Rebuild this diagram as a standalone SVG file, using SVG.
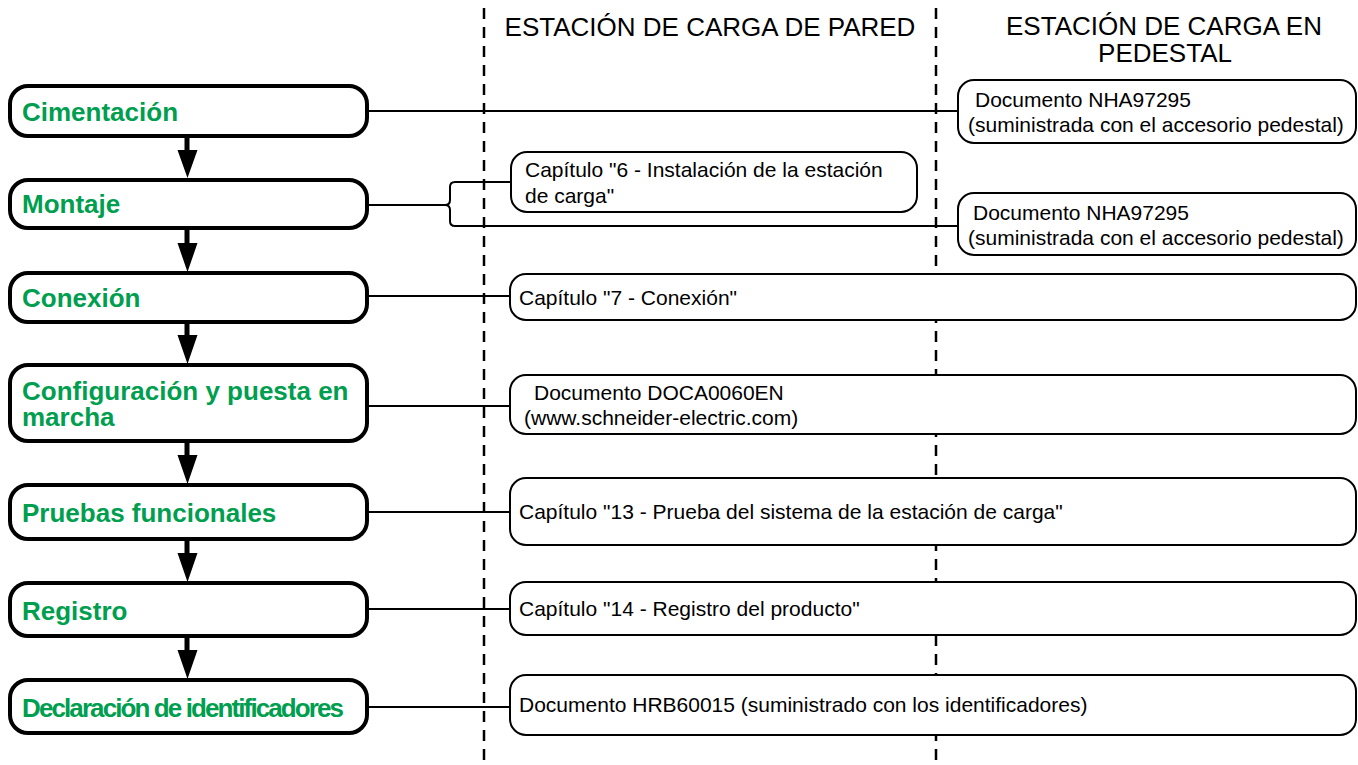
<svg xmlns="http://www.w3.org/2000/svg" width="1358" height="765" viewBox="0 0 1358 765">
<style>
.step{fill:#fff;stroke:#000;stroke-width:4}
.lbl{font-family:"Liberation Sans",Arial,sans-serif;font-weight:bold;font-size:26px;fill:#009e4f}
.doc{fill:#fff;stroke:#000;stroke-width:2}
.dt{font-family:"Liberation Sans",Arial,sans-serif;font-size:21px;fill:#000}
.hd{font-family:"Liberation Sans",Arial,sans-serif;font-size:26px;fill:#000}
.ln{fill:none;stroke:#000;stroke-width:2}
.dash{fill:none;stroke:#000;stroke-width:2.5;stroke-dasharray:11 8}
.arr{fill:#000}
</style>
<rect width="1358" height="765" fill="#fff"/>
<g id="columns">
<line class="dash" x1="484" y1="8" x2="484" y2="765"/>
<line class="dash" x1="936" y1="8" x2="936" y2="765"/>
<text class="hd" x="710" y="36" text-anchor="middle">ESTACIÓN DE CARGA DE PARED</text>
<text class="hd" x="1164" y="35" text-anchor="middle">ESTACIÓN DE CARGA EN</text>
<text class="hd" x="1165" y="62" text-anchor="middle">PEDESTAL</text>
</g>
<g id="connectors">
<line class="ln" x1="367" y1="111" x2="958" y2="111"/>
<path class="ln" d="M367,205 H445 Q450,205 450,200 V187 Q450,182 455,182 H511 M445,205 Q450,205 450,210 V221 Q450,226 455,226 H958"/>
<line class="ln" x1="367" y1="296" x2="510" y2="296"/>
<line class="ln" x1="367" y1="406" x2="510" y2="406"/>
<line class="ln" x1="367" y1="512" x2="510" y2="512"/>
<line class="ln" x1="367" y1="609" x2="510" y2="609"/>
<line class="ln" x1="367" y1="707" x2="510" y2="707"/>
<path class="arr" d="M184.5,136 h5 v14 h8 l-10,28 l-10,-28 h7 z"/>
<path class="arr" d="M184.5,228 h5 v15 h8 l-10,29 l-10,-29 h7 z"/>
<path class="arr" d="M184.5,322 h5 v13 h8 l-10,29 l-10,-29 h7 z"/>
<path class="arr" d="M184.5,441 h5 v14 h8 l-10,29 l-10,-29 h7 z"/>
<path class="arr" d="M184.5,539 h5 v14 h8 l-10,29 l-10,-29 h7 z"/>
<path class="arr" d="M184.5,636 h5 v14 h8 l-10,29 l-10,-29 h7 z"/>
</g>
<g id="n-cimentacion">
<rect class="step" x="10" y="86" width="357" height="50" rx="18"/>
<text class="lbl" x="22" y="121">Cimentación</text>
</g>
<g id="n-montaje">
<rect class="step" x="10" y="180" width="357" height="48" rx="18"/>
<text class="lbl" x="22" y="213">Montaje</text>
</g>
<g id="n-conexion">
<rect class="step" x="10" y="273" width="357" height="49" rx="18"/>
<text class="lbl" x="22" y="307">Conexión</text>
</g>
<g id="n-configuracion">
<rect class="step" x="10" y="365" width="357" height="76" rx="18"/>
<text class="lbl" x="22" y="400">Configuración y puesta en</text>
<text class="lbl" x="22" y="426">marcha</text>
</g>
<g id="n-pruebas">
<rect class="step" x="10" y="485" width="357" height="54" rx="18"/>
<text class="lbl" x="22" y="522">Pruebas funcionales</text>
</g>
<g id="n-registro">
<rect class="step" x="10" y="583" width="357" height="53" rx="18"/>
<text class="lbl" x="22" y="620">Registro</text>
</g>
<g id="n-declaracion">
<rect class="step" x="10" y="680" width="357" height="53" rx="18"/>
<text class="lbl" x="22" y="717" letter-spacing="-1.9">Declaración de identificadores</text>
</g>
<g id="d-nha1">
<rect class="doc" x="958" y="80" width="398" height="63" rx="16"/>
<text class="dt" x="975" y="107">Documento NHA97295</text>
<text class="dt" x="968" y="132">(suministrada con el accesorio pedestal)</text>
</g>
<g id="d-cap6">
<rect class="doc" x="511" y="152" width="406" height="60" rx="16"/>
<text class="dt" x="525" y="177">Capítulo "6 - Instalación de la estación</text>
<text class="dt" x="525" y="203">de carga"</text>
</g>
<g id="d-nha2">
<rect class="doc" x="958" y="193" width="398" height="62" rx="16"/>
<text class="dt" x="973" y="220">Documento NHA97295</text>
<text class="dt" x="968" y="245">(suministrada con el accesorio pedestal)</text>
</g>
<g id="d-cap7">
<rect class="doc" x="510" y="274" width="846" height="46" rx="16"/>
<text class="dt" x="519" y="305">Capítulo "7 - Conexión"</text>
</g>
<g id="d-doca">
<rect class="doc" x="510" y="375" width="846" height="59" rx="16"/>
<text class="dt" x="534" y="400">Documento DOCA0060EN</text>
<text class="dt" x="524" y="425">(www.schneider-electric.com)</text>
</g>
<g id="d-cap13">
<rect class="doc" x="510" y="478" width="846" height="67" rx="16"/>
<text class="dt" x="519" y="519">Capítulo "13 - Prueba del sistema de la estación de carga"</text>
</g>
<g id="d-cap14">
<rect class="doc" x="510" y="582" width="846" height="53" rx="16"/>
<text class="dt" x="519" y="616">Capítulo "14 - Registro del producto"</text>
</g>
<g id="d-hrb">
<rect class="doc" x="510" y="675" width="846" height="60" rx="16"/>
<text class="dt" x="519" y="712">Documento HRB60015 (suministrado con los identificadores)</text>
</g>
</svg>
